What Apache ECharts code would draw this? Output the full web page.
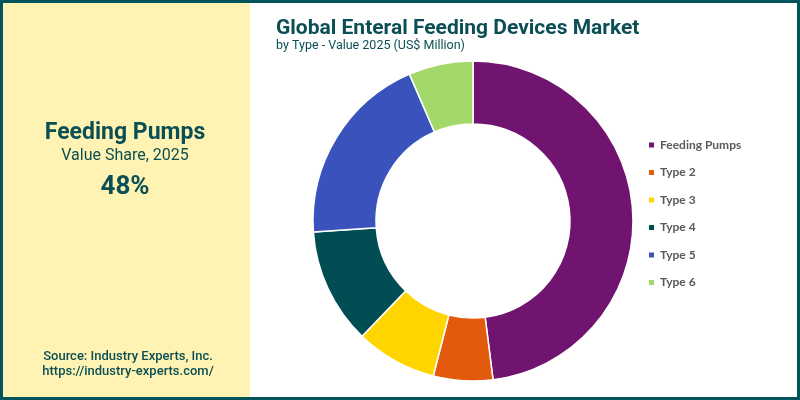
<!DOCTYPE html>
<html>
<head>
<meta charset="utf-8">
<script src="https://cdn.jsdelivr.net/npm/echarts@6/dist/echarts.min.js"></script>
<style>
  html, body { margin: 0; padding: 0; }
  #chart { width: 800px; height: 400px; }
</style>
</head>
<body>
<div id="chart"></div>
<script>
const categories = ['Feeding Pumps', 'Type 2', 'Type 3', 'Type 4', 'Type 5', 'Type 6'];
const shares = [48, 6, 8.2, 11.7, 19.6, 6.5];
const colors = ['#701470', '#e35a0d', '#ffd500', '#004d54', '#3a53bc', '#a3d96a'];

const teal = '#0b4f55';
const myChart = echarts.init(document.getElementById('chart'));

const option = {
  backgroundColor: '#ffffff',
  title: [
    {
      text: 'Global Enteral Feeding Devices Market',
      subtext: 'by Type - Value 2025 (US$ Million)',
      left: 271,
      top: 13,
      itemGap: 0,
      textStyle: { fontFamily: 'Roboto', fontWeight: 'bold', fontSize: 21, color: teal },
      subtextStyle: { fontFamily: 'Roboto', fontSize: 12.5, color: teal }
    }
  ],
  legend: {
    orient: 'vertical',
    left: 642,
    top: 134,
    itemWidth: 7,
    itemHeight: 7,
    itemGap: 15.5,
    icon: 'rect',
    data: categories,
    textStyle: { fontFamily: 'Lato', fontSize: 12, fontWeight: 'bold', color: '#595959' }
  },
  graphic: [
    {
      type: 'rect', z: 0,
      shape: { x: 3, y: 3, width: 247, height: 394 },
      style: { fill: '#fff3b3' }
    },
    {
      type: 'rect', z: 10,
      shape: { x: 1.5, y: 1.5, width: 797, height: 397 },
      style: { fill: 'none', stroke: '#00545a', lineWidth: 3 }
    },
    {
      type: 'text', z: 5,
      style: { x: 125, y: 133, text: 'Feeding Pumps', align: 'center', verticalAlign: 'middle',
        font: 'bold 23px Roboto', fill: teal }
    },
    {
      type: 'text', z: 5,
      style: { x: 125, y: 156, text: 'Value Share, 2025', align: 'center', verticalAlign: 'middle',
        font: '16px Roboto', fill: teal }
    },
    {
      type: 'text', z: 5,
      style: { x: 125, y: 187, text: shares[0] + '%', align: 'center', verticalAlign: 'middle',
        font: 'bold 26px Roboto', fill: teal }
    },
    {
      type: 'text', z: 5,
      style: { x: 128, y: 357, text: 'Source: Industry Experts, Inc.', align: 'center', verticalAlign: 'middle',
        font: '500 13px Roboto', fill: teal }
    },
    {
      type: 'text', z: 5,
      style: { x: 128, y: 372, text: 'https://industry-experts.com/', align: 'center', verticalAlign: 'middle',
        font: '500 13px Roboto', fill: teal }
    }
  ],
  series: [
    {
      type: 'pie',
      center: [473, 221],
      radius: [97, 160],
      startAngle: 90,
      clockwise: true,
      label: { show: false },
      labelLine: { show: false },
      silent: true,
      itemStyle: { borderColor: '#ffffff', borderWidth: 1.5 },
      data: categories.map((name, i) => ({ name, value: shares[i], itemStyle: { color: colors[i] } }))
    }
  ]
};

myChart.setOption(option);
window.addEventListener('resize', () => myChart.resize());
</script>
</body>
</html>
